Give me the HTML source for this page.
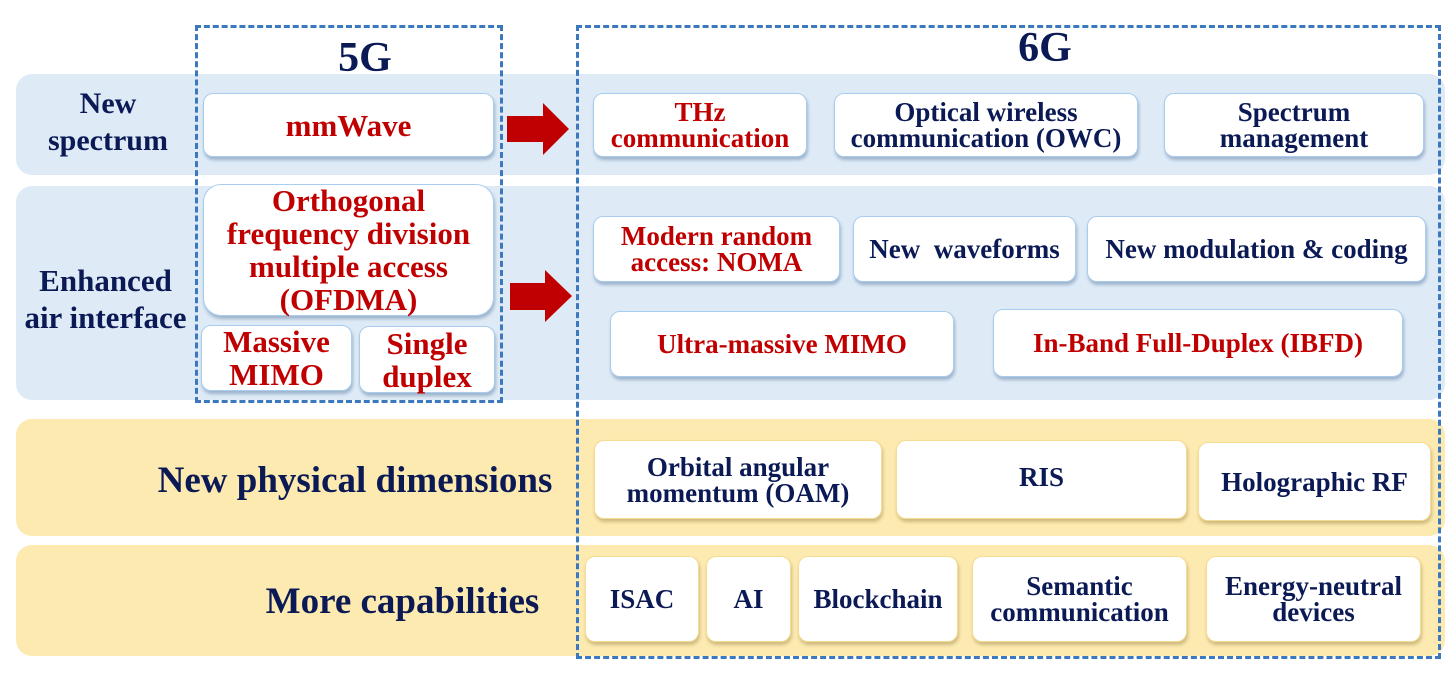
<!DOCTYPE html>
<html><head><meta charset="utf-8"><style>
body{margin:0;width:1456px;height:677px;background:#fff;position:relative;overflow:hidden;font-family:"Liberation Serif",serif;font-weight:bold}
.band{position:absolute;border-radius:16px}
.b{background:#deebf7}.y{background:#fdeab0}
.box{position:absolute;background:#fff;border-radius:10px;display:flex;align-items:center;justify-content:center;text-align:center;font-size:27px;line-height:26px;color:#0b1a55;box-sizing:border-box;white-space:nowrap}
.bb{border:1.5px solid #a9cdee;box-shadow:1px 3px 3px rgba(80,110,150,.45)}
.yb{border:1.5px solid #f5dc90;box-shadow:1px 3px 3px rgba(150,130,70,.45)}
.r{color:#c00000}
.l5{font-size:31px;line-height:33px}
.lab{position:absolute;color:#0b1a55;text-align:center;font-size:30px;line-height:37px;white-space:nowrap}
.dash{position:absolute;border:3px dashed #3b78bd;box-sizing:border-box}
</style></head><body>
<div class="band b" style="left:16px;top:74px;width:1429px;height:101px"></div>
<div class="band b" style="left:16px;top:186px;width:1429px;height:214px"></div>
<div class="band y" style="left:16px;top:419px;width:1429px;height:117px"></div>
<div class="band y" style="left:16px;top:545px;width:1429px;height:111px"></div>

<div class="lab" style="left:28px;top:85px;width:160px">New<br>spectrum</div>
<div class="lab" style="left:18px;top:262px;width:175px;font-size:31px">Enhanced<br>air interface</div>
<div class="lab" style="left:140px;top:462px;width:430px;font-size:37px">New physical dimensions</div>
<div class="lab" style="left:230px;top:583px;width:345px;font-size:37px">More capabilities</div>

<div class="lab" style="left:300px;top:40px;width:130px;font-size:42px">5G</div>
<div class="lab" style="left:980px;top:30px;width:130px;font-size:42px">6G</div>

<div class="box bb r l5" style="left:203px;top:93px;width:291px;height:64px">mmWave</div>
<div class="box bb r l5" style="left:203px;top:184px;width:291px;height:132px;border-radius:18px">Orthogonal<br>frequency division<br>multiple access<br>(OFDMA)</div>
<div class="box bb r l5" style="left:201px;top:325px;width:151px;height:66px">Massive<br>MIMO</div>
<div class="box bb r l5" style="left:359px;top:326px;width:136px;height:67px">Single<br>duplex</div>

<div class="box bb r" style="left:593px;top:93px;width:214px;height:64px">THz<br>communication</div>
<div class="box bb" style="left:834px;top:93px;width:304px;height:64px">Optical wireless<br>communication (OWC)</div>
<div class="box bb" style="left:1164px;top:93px;width:260px;height:64px">Spectrum<br>management</div>
<div class="box bb r" style="left:593px;top:216px;width:247px;height:66px">Modern random<br>access: NOMA</div>
<div class="box bb" style="left:853px;top:216px;width:223px;height:66px">New&nbsp; waveforms</div>
<div class="box bb" style="left:1087px;top:216px;width:339px;height:66px">New modulation &amp; coding</div>
<div class="box bb r" style="left:610px;top:311px;width:344px;height:66px">Ultra-massive MIMO</div>
<div class="box bb r" style="left:993px;top:309px;width:410px;height:68px">In-Band Full-Duplex (IBFD)</div>

<div class="box yb" style="left:594px;top:440px;width:288px;height:79px">Orbital angular<br>momentum (OAM)</div>
<div class="box yb" style="left:896px;top:440px;width:291px;height:79px;padding-bottom:6px">RIS</div>
<div class="box yb" style="left:1198px;top:442px;width:233px;height:79px">Holographic RF</div>
<div class="box yb" style="left:585px;top:556px;width:114px;height:86px">ISAC</div>
<div class="box yb" style="left:706px;top:556px;width:85px;height:86px">AI</div>
<div class="box yb" style="left:798px;top:556px;width:160px;height:86px">Blockchain</div>
<div class="box yb" style="left:972px;top:556px;width:215px;height:86px">Semantic<br>communication</div>
<div class="box yb" style="left:1206px;top:556px;width:215px;height:86px">Energy-neutral<br>devices</div>

<svg style="position:absolute;left:0;top:0" width="1456" height="677">
<polygon points="507,116 543,116 543,103 569,129 543,155 543,142 507,142" fill="#c00000"/>
<polygon points="510,283 545,283 545,270 572,296 545,322 545,310 510,310" fill="#c00000"/>
</svg>

<div class="dash" style="left:195px;top:25px;width:308px;height:378px"></div>
<div class="dash" style="left:576px;top:25px;width:865px;height:634px"></div>
</body></html>
